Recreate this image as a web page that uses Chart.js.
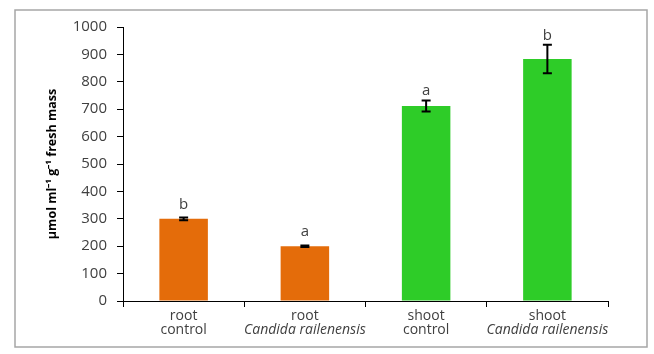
<!DOCTYPE html>
<html>
<head>
<meta charset="utf-8">
<script src="https://cdn.jsdelivr.net/npm/chart.js@4"></script>
<style>
  body { margin: 0; background: #fff; }
  canvas { display: block; }
</style>
</head>
<body>
<canvas id="chart" width="654" height="354"></canvas>
<script>
// bar groups: tissue on the first label line, treatment (italic for the yeast) on the second
var tissues = ['root', 'root', 'shoot', 'shoot'];
var treatments = ['control', 'Candida railenensis', 'control', 'Candida railenensis'];
var means = [300, 200, 712, 883];
var errors = [5, 3, 20, 52];
var letters = ['b', 'a', 'a', 'b'];
var barColors = ['#E46C0A', '#E46C0A', '#2ECC28', '#2ECC28'];

var textColor = '#404040';
var fontFamily = '"Open Sans", sans-serif';

// frame, error bars, significance letters and the two-line category labels
var extras = {
  id: 'extras',
  beforeDraw: function(chart) {
    var ctx = chart.ctx;
    ctx.save();
    ctx.fillStyle = '#fff';
    ctx.fillRect(0, 0, chart.width, chart.height);
    ctx.strokeStyle = '#a6a6a6';
    ctx.lineWidth = 1.5;
    ctx.strokeRect(15, 10, 632, 337);
    ctx.restore();
  },
  afterDatasetsDraw: function(chart) {
    var ctx = chart.ctx;
    var x = chart.scales.x, y = chart.scales.y;
    ctx.save();
    ctx.strokeStyle = '#000';
    ctx.lineWidth = 2;
    for (var i = 0; i < means.length; i++) {
      var cx = x.getPixelForValue(i);
      var top = y.getPixelForValue(means[i] + errors[i]);
      var bot = y.getPixelForValue(means[i] - errors[i]);
      ctx.beginPath();
      ctx.moveTo(cx, top); ctx.lineTo(cx, bot);
      ctx.moveTo(cx - 4.5, top); ctx.lineTo(cx + 4.5, top);
      ctx.moveTo(cx - 4.5, bot); ctx.lineTo(cx + 4.5, bot);
      ctx.stroke();

      var ly = Math.min(top - 5, y.getPixelForValue(means[i]) - 10);
      ctx.fillStyle = textColor;
      ctx.font = '15px ' + fontFamily;
      ctx.textAlign = 'center';
      ctx.textBaseline = 'alphabetic';
      ctx.fillText(letters[i], cx, ly);
    }

    var base = chart.chartArea.bottom;
    for (var j = 0; j < tissues.length; j++) {
      var px = x.getPixelForValue(j);
      ctx.fillStyle = textColor;
      ctx.textAlign = 'center';
      ctx.textBaseline = 'middle';
      ctx.font = '14px ' + fontFamily;
      ctx.fillText(tissues[j], px, base + 15);
      ctx.font = (treatments[j] === 'control' ? '' : 'italic ') + '14px ' + fontFamily;
      ctx.fillText(treatments[j], px, base + 29);
    }
    ctx.restore();
  }
};

new Chart(document.getElementById('chart'), {
  type: 'bar',
  data: {
    labels: tissues.map(function(t, i) { return t + ' ' + treatments[i]; }),
    datasets: [{
      data: means,
      backgroundColor: barColors,
      borderWidth: 0,
      categoryPercentage: 1,
      barPercentage: 0.4
    }]
  },
  options: {
    responsive: false,
    animation: false,
    layout: { padding: { left: 0, right: 46, top: 27, bottom: 0 } },
    plugins: { legend: { display: false }, tooltip: { enabled: false } },
    scales: {
      x: {
        afterFit: function(s) { s.height = 53; },
        ticks: { display: false },
        grid: { offset: true, drawOnChartArea: false, tickLength: 6, color: '#000' },
        border: { color: '#000', width: 1 }
      },
      y: {
        min: 0,
        max: 1000,
        afterFit: function(s) { s.width = 123; },
        ticks: {
          stepSize: 100,
          padding: 10,
          color: textColor,
          font: { family: fontFamily, size: 15 },
          callback: function(v) { return String(v); }
        },
        grid: { drawOnChartArea: false, tickLength: 6, color: '#000' },
        border: { color: '#000', width: 1 },
        title: {
          display: true,
          text: 'µmol ml⁻¹ g⁻¹ fresh mass',
          color: '#000',
          font: { family: fontFamily, size: 12.5, weight: 'bold' },
          padding: { top: 45, bottom: 0 }
        }
      }
    }
  },
  plugins: [extras]
});
</script>
</body>
</html>
